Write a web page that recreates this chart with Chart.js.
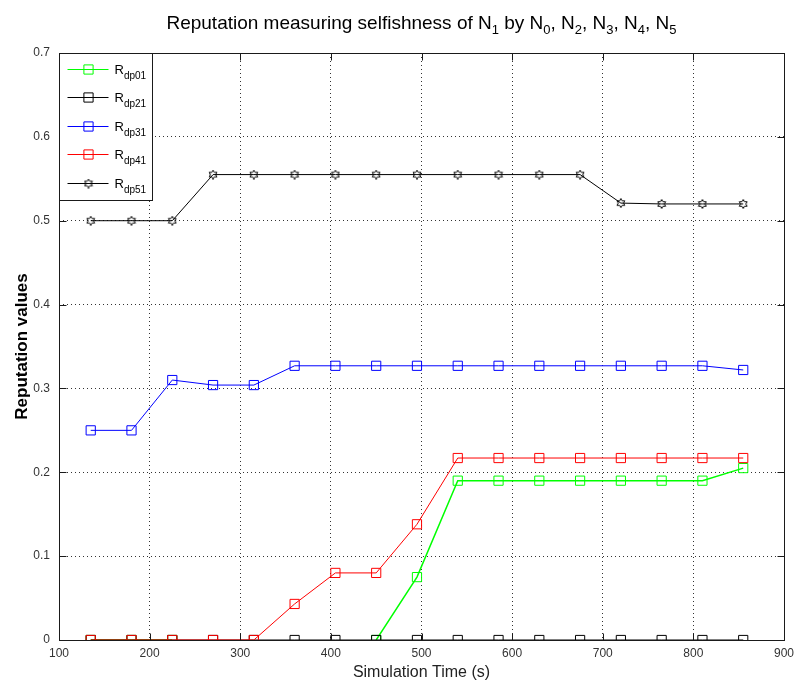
<!DOCTYPE html>
<html>
<head>
<meta charset="utf-8">
<script src="https://cdn.jsdelivr.net/npm/chart.js@4.4.0/dist/chart.umd.min.js"></script>
<style>
  html, body { margin: 0; padding: 0; background: #fff; }
  #wrap { width: 795px; height: 684px; }
</style>
</head>
<body>
<div id="wrap"><canvas id="rep-chart" width="795" height="684"></canvas></div>
<script>
// data
const simTime = [135, 180, 225, 270, 315, 360, 405, 450, 495, 540, 585, 630, 675, 720, 765, 810, 855];
const rdp01 = [0, 0, 0, null, null, null, null, 0, 0.075, 0.19, 0.19, 0.19, 0.19, 0.19, 0.19, 0.19, 0.205];
const rdp21 = [0, 0, 0, 0, 0, 0, 0, 0, 0, 0, 0, 0, 0, 0, 0, 0, 0];
const rdp31 = [0.25, 0.25, 0.31, 0.304, 0.304, 0.327, 0.327, 0.327, 0.327, 0.327, 0.327, 0.327, 0.327, 0.327, 0.327, 0.327, 0.322];
const rdp41 = [0, 0, 0, 0, 0, 0.043, 0.08, 0.08, 0.138, 0.217, 0.217, 0.217, 0.217, 0.217, 0.217, 0.217, 0.217];
const rdp51 = [0.5, 0.5, 0.5, 0.555, 0.555, 0.555, 0.555, 0.555, 0.555, 0.555, 0.555, 0.555, 0.555, 0.521, 0.52, 0.52, 0.52];

const seriesNames = ['R_dp01', 'R_dp21', 'R_dp31', 'R_dp41', 'R_dp51'];
const xTicks = [100, 200, 300, 400, 500, 600, 700, 800, 900];
const yTicks = [0, 0.1, 0.2, 0.3, 0.4, 0.5, 0.6, 0.7];

const chartTitle = 'Reputation measuring selfishness of N_1 by N_0, N_2, N_3, N_4, N_5';
const xTitle = 'Simulation Time (s)';
const yTitle = 'Reputation values';

const FONT = '"Liberation Sans", Arial, Helvetica, sans-serif';

// matlab style hexagram marker
function hexagram(size, color) {
  const c = document.createElement('canvas');
  c.width = c.height = size;
  const g = c.getContext('2d');
  const r = size / 2 - 0.5, cx = size / 2, cy = size / 2;
  g.beginPath();
  for (let i = 0; i < 12; i++) {
    const a = -Math.PI / 2 + i * Math.PI / 6;
    const rr = i % 2 ? r * 0.58 : r;
    g.lineTo(cx + rr * Math.cos(a), cy + rr * Math.sin(a));
  }
  g.closePath();
  g.strokeStyle = color;
  g.lineWidth = 1;
  g.stroke();
  return c;
}
const starMark = hexagram(10, '#000');

function pts(vals) {
  return simTime.map((x, i) => ({ x, y: vals[i] }));
}

function series(vals, color, order, style, width) {
  return {
    data: pts(vals),
    borderColor: color,
    backgroundColor: 'rgba(0,0,0,0)',
    borderWidth: width || 1,
    pointStyle: style || 'rect',
    pointRadius: 6.5,
    pointBorderWidth: 1,
    pointBorderColor: color,
    pointBackgroundColor: 'rgba(0,0,0,0)',
    spanGaps: false,
    tension: 0,
    order
  };
}

// text with _sub parts
function parts(str) {
  const out = [];
  str.split(/_(\w+)/).forEach((s, i) => { if (s) out.push([s, i % 2 === 1]); });
  return out;
}
function drawRich(ctx, str, x, y, size, subSize, subDrop, align) {
  const segs = parts(str);
  let w = 0;
  segs.forEach(([s, sub]) => {
    ctx.font = (sub ? subSize : size) + 'px ' + FONT;
    w += ctx.measureText(s).width;
  });
  let cx = align === 'center' ? x - w / 2 : x;
  ctx.textAlign = 'left';
  ctx.textBaseline = 'alphabetic';
  segs.forEach(([s, sub]) => {
    ctx.font = (sub ? subSize : size) + 'px ' + FONT;
    ctx.fillText(s, cx, sub ? y + subDrop : y);
    cx += ctx.measureText(s).width;
  });
}

const overlay = {
  id: 'overlay',
  afterDatasetsDraw(chart) {
    const ctx = chart.ctx;
    const { left, right, top, bottom } = chart.chartArea;
    const xs = chart.scales.x, ys = chart.scales.y;
    const L = Math.round(left) + 0.5, R = Math.round(right) + 0.5;
    const T = Math.round(top) + 0.5, B = Math.round(bottom) + 0.5;
    ctx.save();
    ctx.strokeStyle = '#1a1a1a';
    ctx.lineWidth = 1;
    ctx.setLineDash([]);
    // inward ticks
    ctx.beginPath();
    xTicks.slice(1, -1).forEach(v => {
      const px = Math.round(xs.getPixelForValue(v)) + 0.5;
      ctx.moveTo(px, B); ctx.lineTo(px, B - 7);
      ctx.moveTo(px, T); ctx.lineTo(px, T + 7);
    });
    yTicks.slice(1, -1).forEach(v => {
      const py = Math.round(ys.getPixelForValue(v)) + 0.5;
      ctx.moveTo(L, py); ctx.lineTo(L + 7, py);
      ctx.moveTo(R, py); ctx.lineTo(R - 7, py);
    });
    ctx.stroke();
    ctx.strokeRect(L, T, R - L, B - T);

    // legend box
    const bx = L, by = T, bw = 93, bh = 147;
    ctx.fillStyle = '#fff';
    ctx.fillRect(bx, by, bw, bh);
    ctx.strokeStyle = '#1a1a1a';
    ctx.strokeRect(bx, by, bw, bh);
    chart.data.datasets.forEach((ds, i) => {
      const cy = Math.round(by + 15.5 + i * 28.4) + 0.5;
      ctx.strokeStyle = ds.borderColor;
      ctx.lineWidth = 1;
      ctx.beginPath();
      ctx.moveTo(bx + 8, cy); ctx.lineTo(bx + 49, cy);
      ctx.stroke();
      ctx.fillStyle = 'rgba(0,0,0,0)';
      Chart.helpers.drawPoint(ctx, {
        pointStyle: ds.pointStyle, radius: 6.5, rotation: 0, borderWidth: 1
      }, bx + 29, cy);
      ctx.fillStyle = '#000';
      drawRich(ctx, seriesNames[i], bx + 55, cy + 4, 13, 10, 5, 'left');
    });
    ctx.restore();
  },
  afterDraw(chart) {
    const ctx = chart.ctx;
    const { left, right, top, bottom } = chart.chartArea;
    ctx.save();
    ctx.fillStyle = '#000';
    drawRich(ctx, chartTitle, (left + right) / 2, 29, 19, 13, 5, 'center');
    ctx.font = '16px ' + FONT;
    ctx.textAlign = 'center';
    ctx.textBaseline = 'middle';
    ctx.fillStyle = '#222';
    ctx.fillText(xTitle, (left + right) / 2, 673);
    ctx.translate(22, (top + bottom) / 2);
    ctx.rotate(-Math.PI / 2);
    ctx.font = 'bold 17px ' + FONT;
    ctx.fillStyle = '#000';
    ctx.fillText(yTitle, 0, 0);
    ctx.restore();
  }
};

new Chart(document.getElementById('rep-chart'), {
  type: 'line',
  data: {
    datasets: [
      series(rdp01, '#00ff00', 5, 'rect', 1.5),
      series(rdp21, '#000000', 4),
      series(rdp31, '#0000ff', 3),
      series(rdp41, '#ff0000', 2),
      series(rdp51, '#000000', 1, starMark)
    ]
  },
  options: {
    responsive: false,
    animation: false,
    events: [],
    layout: { padding: { left: 0, top: 53, right: 11, bottom: 0 } },
    plugins: { legend: { display: false }, tooltip: { enabled: false }, title: { display: false } },
    scales: {
      x: {
        type: 'linear',
        min: 100, max: 900,
        afterBuildTicks: s => { s.ticks = xTicks.map(v => ({ value: v })); },
        afterFit: s => { s.height = 44; s.paddingLeft = 0; s.paddingRight = 0; },
        grid: { color: '#333', lineWidth: 1, drawTicks: false },
        border: { display: false, dash: [1, 3] },
        ticks: { padding: 6, color: '#333', font: { family: FONT, size: 12 }, maxRotation: 0, callback: v => String(v) }
      },
      y: {
        type: 'linear',
        min: 0, max: 0.7,
        afterBuildTicks: s => { s.ticks = yTicks.map(v => ({ value: v })); },
        afterFit: s => { s.width = 59; s.paddingTop = 0; s.paddingBottom = 0; },
        grid: { color: '#333', lineWidth: 1, drawTicks: false },
        border: { display: false, dash: [1, 3] },
        ticks: { padding: 9, color: '#333', font: { family: FONT, size: 12 }, callback: v => String(Math.round(v * 10) / 10) }
      }
    }
  },
  plugins: [overlay]
});
</script>
</body>
</html>
